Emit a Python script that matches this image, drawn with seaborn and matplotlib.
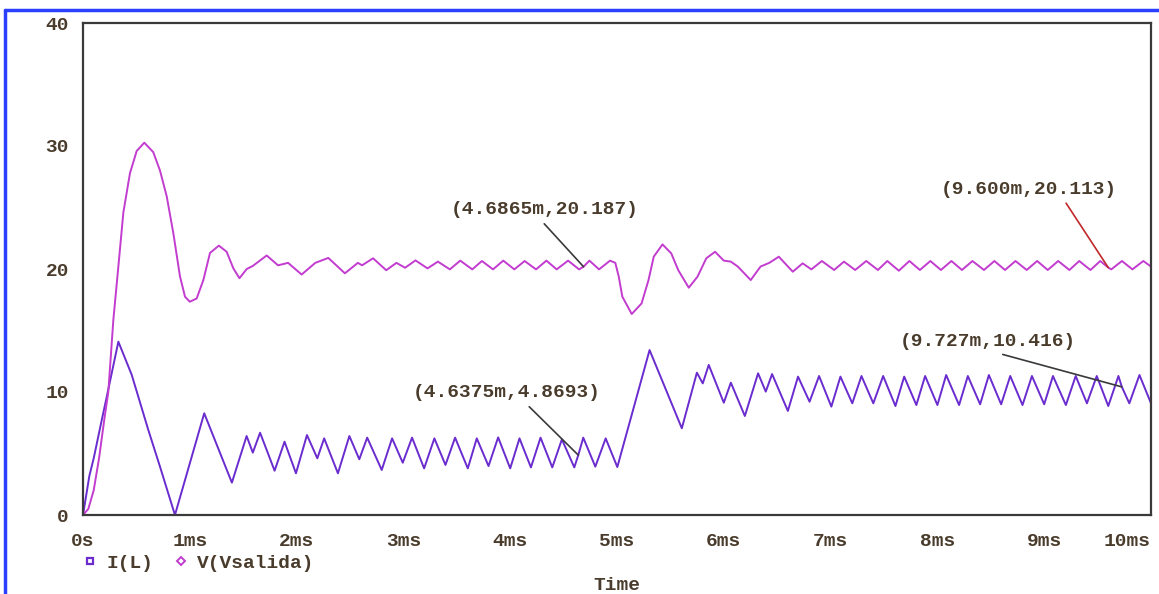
import matplotlib
matplotlib.use("Agg")
import matplotlib.pyplot as plt
from matplotlib.lines import Line2D
import pandas as pd
import seaborn as sns

# ---- I(L): inductor current [A] vs time [ms] ----
il_time = [0, 0.06, 0.10, 0.175, 0.222, 0.331, 0.456, 0.612, 0.721, 0.861,
           1.135, 1.394, 1.532, 1.590, 1.658, 1.794, 1.887, 1.994, 2.097, 2.194,
           2.258, 2.387, 2.494, 2.587, 2.661, 2.797, 2.894, 2.994, 3.081, 3.194,
           3.290, 3.394, 3.484, 3.603, 3.687, 3.797, 3.887, 4.000, 4.087, 4.194,
           4.284, 4.394, 4.484, 4.600, 4.6375, 4.684, 4.797, 4.894, 5.003, 5.305,
           5.607, 5.748, 5.803, 5.859, 6.000, 6.066, 6.197, 6.321, 6.393, 6.452,
           6.600, 6.695, 6.803, 6.892, 7.007, 7.092, 7.203, 7.289, 7.400, 7.492,
           7.607, 7.689, 7.803, 7.885, 8.000, 8.082, 8.203, 8.285, 8.400, 8.482,
           8.597, 8.682, 8.797, 8.885, 9.000, 9.082, 9.203, 9.295, 9.400, 9.492,
           9.600, 9.695, 9.727, 9.797, 9.892, 10.0]
il_value = [0, 3.2, 4.6, 7.7, 9.6, 14.09, 11.4, 6.9, 3.93, 0.0,
            8.27, 2.63, 6.42, 5.07, 6.69, 3.60, 5.96, 3.39, 6.50, 4.61,
            6.23, 3.39, 6.42, 4.53, 6.29, 3.66, 6.23, 4.25, 6.29, 3.79,
            6.23, 4.07, 6.29, 3.79, 6.23, 3.98, 6.31, 3.79, 6.23, 3.87,
            6.29, 3.87, 6.15, 3.87, 4.8693, 6.29, 3.93, 6.23, 3.90, 13.41,
            7.05, 11.57, 10.70, 12.20, 9.13, 10.76, 8.05, 11.52, 10.03, 11.46,
            8.46, 11.25, 9.21, 11.30, 8.81, 11.25, 9.08, 11.30, 9.08, 11.30,
            8.86, 11.25, 8.94, 11.30, 8.94, 11.38, 8.94, 11.30, 9.00, 11.38,
            9.00, 11.30, 8.94, 11.30, 9.00, 11.30, 8.94, 11.30, 9.08, 11.30,
            8.86, 11.30, 10.416, 9.08, 11.38, 9.08]

# ---- V(Vsalida): output voltage [V] vs time [ms] ----
v_time = [0, 0.05, 0.10, 0.15, 0.20, 0.237, 0.284, 0.331, 0.378, 0.44,
          0.503, 0.574, 0.658, 0.721, 0.784, 0.846, 0.908, 0.955, 1.000, 1.064,
          1.127, 1.189, 1.272, 1.345, 1.408, 1.465, 1.533, 1.590, 1.720, 1.826,
          1.920, 2.047, 2.175, 2.297, 2.452, 2.574, 2.613, 2.716, 2.839, 2.935,
          3.016, 3.113, 3.226, 3.323, 3.435, 3.532, 3.645, 3.735, 3.839, 3.935,
          4.039, 4.135, 4.242, 4.339, 4.435, 4.542, 4.645, 4.6865, 4.742, 4.832,
          4.935, 4.984, 5.016, 5.050, 5.138, 5.230, 5.295, 5.344, 5.426, 5.508,
          5.574, 5.672, 5.754, 5.836, 5.918, 6.000, 6.066, 6.131, 6.252, 6.344,
          6.426, 6.515, 6.646, 6.738, 6.820, 6.918, 7.033, 7.125, 7.230, 7.334,
          7.443, 7.531, 7.639, 7.738, 7.836, 7.934, 8.033, 8.131, 8.230, 8.328,
          8.436, 8.534, 8.633, 8.731, 8.836, 8.934, 9.033, 9.131, 9.236, 9.328,
          9.433, 9.525, 9.600, 9.628, 9.728, 9.826, 9.928, 10.0]
v_value = [0, 0.5, 2.0, 4.6, 7.8, 10.0, 15.85, 20.2, 24.6, 27.8,
           29.6, 30.27, 29.5, 28.0, 25.9, 22.9, 19.4, 17.75, 17.34, 17.6,
           19.1, 21.3, 21.9, 21.4, 20.05, 19.25, 20.0, 20.25, 21.1, 20.3,
           20.5, 19.55, 20.5, 20.9, 19.65, 20.5, 20.3, 20.87, 19.9, 20.5,
           20.1, 20.7, 20.05, 20.6, 19.97, 20.68, 19.97, 20.65, 19.97, 20.68,
           19.97, 20.65, 19.97, 20.68, 19.97, 20.68, 19.97, 20.187, 20.68, 19.97,
           20.68, 20.5, 19.4, 17.75, 16.34, 17.2, 19.1, 21.0, 22.0, 21.27,
           19.9, 18.48, 19.38, 20.87, 21.4, 20.68, 20.6, 20.2, 19.1, 20.2,
           20.5, 21.0, 19.78, 20.46, 19.97, 20.65, 19.92, 20.6, 19.92, 20.65,
           19.92, 20.65, 19.86, 20.65, 19.92, 20.65, 19.92, 20.65, 19.92, 20.65,
           19.92, 20.65, 19.92, 20.65, 19.92, 20.65, 19.92, 20.65, 19.92, 20.65,
           19.92, 20.65, 20.113, 19.97, 20.65, 19.97, 20.65, 20.2]

trace_names = ["I(L)", "V(Vsalida)"]
trace_colors = ["#6a2ccf", "#c23ccf"]

# probe cursor readouts
cursor_labels = ["(4.6865m,20.187)", "(9.600m,20.113)", "(4.6375m,4.8693)", "(9.727m,10.416)"]
cursor_x = [4.6865, 9.600, 4.6375, 9.727]
cursor_y = [20.187, 20.113, 4.8693, 10.416]

x_ticks = list(range(0, 11))
x_tick_labels = ["0s", "1ms", "2ms", "3ms", "4ms", "5ms", "6ms", "7ms", "8ms", "9ms", "10ms"]
y_ticks = [0, 10, 20, 30, 40]
y_tick_labels = ["0", "10", "20", "30", "40"]

df = pd.concat([
    pd.DataFrame({"t": il_time, "val": il_value, "trace": trace_names[0]}),
    pd.DataFrame({"t": v_time, "val": v_value, "trace": trace_names[1]}),
], ignore_index=True)

sns.set_style("white")
plt.rcParams["font.family"] = ["Liberation Mono", "DejaVu Sans Mono"]

FS = 14
TXT = "#4a3c2c"
AXC = "#3a3a3a"
W, H = 1159, 594
fig = plt.figure(figsize=(W / 100, H / 100), dpi=100)
ax = fig.add_axes([83 / W, 1 - 515 / H, (1151 - 83) / W, (515 - 23) / H])

sns.lineplot(data=df, x="t", y="val", hue="trace", palette=dict(zip(trace_names, trace_colors)),
             estimator=None, sort=False, legend=False, linewidth=1.4, ax=ax)

ax.set_xlim(0, 10)
ax.set_ylim(0, 40)
ax.set_xticks(x_ticks)
ax.set_xticklabels(x_tick_labels)
ax.set_yticks(y_ticks)
ax.set_yticklabels(y_tick_labels)
ax.set_xlabel("")
ax.set_ylabel("")
ax.tick_params(direction="out", length=7, width=1.5, color=AXC, labelsize=FS,
               labelcolor=TXT)
ax.tick_params(axis="x", pad=6)
ax.tick_params(axis="y", pad=3)
for lab in ax.get_xticklabels() + ax.get_yticklabels():
    lab.set_fontweight("bold")
# last time label sits inside the frame's right edge
ax.get_xticklabels()[-1].set_horizontalalignment("right")
for sp in ax.spines.values():
    sp.set_visible(True)
    sp.set_color(AXC)
    sp.set_linewidth(1.6)

# cursor readouts with leader lines
text_pos = [(4.326, 24.8), (8.857, 26.5), (3.97, 9.92), (8.474, 14.07)]
lead_rel = [(0.47, 0.0), (0.69, 0.0), (0.59, 0.0), (0.5, 0.0)]
lead_col = [AXC, "#c0282a", AXC, AXC]
for lab, px, py, (tx, ty), rp, lc in zip(cursor_labels, cursor_x, cursor_y, text_pos, lead_rel, lead_col):
    ax.annotate(lab, xy=(px, py), xytext=(tx, ty), textcoords="data",
                ha="center", va="center", fontsize=FS, fontweight="bold", color=TXT,
                arrowprops=dict(arrowstyle="-", color=lc, lw=1.2, relpos=rp,
                                shrinkA=2, shrinkB=0))

# legend under the plot
handles = [
    Line2D([], [], marker="s", ls="none", mfc="none", mec=trace_colors[0], mew=1.6, ms=5),
    Line2D([], [], marker="D", ls="none", mfc="none", mec=trace_colors[1], mew=1.4, ms=4.5),
]
fig.legend(handles, trace_names, loc="center left", bbox_to_anchor=(84 / W, 1 - 563 / H),
           ncol=2, frameon=False, handlelength=0.6, handletextpad=0.55, columnspacing=1.1,
           prop=dict(family="Liberation Mono", size=FS, weight="bold"), labelcolor=TXT,
           borderaxespad=0, borderpad=0)

fig.text(617 / W, 1 - 585 / H, "Time", ha="center", va="center", fontsize=FS,
         fontweight="bold", color=TXT)

# window frame
fig.add_artist(Line2D([5 / W, 5 / W], [0, 1 - 10 / H], color="#2a40ff", lw=2.5,
                      transform=fig.transFigure))
fig.add_artist(Line2D([5 / W, 1], [1 - 10 / H, 1 - 10 / H], color="#2a40ff", lw=2.5,
                      transform=fig.transFigure))

fig.savefig("out.png", dpi=100, facecolor="white")
